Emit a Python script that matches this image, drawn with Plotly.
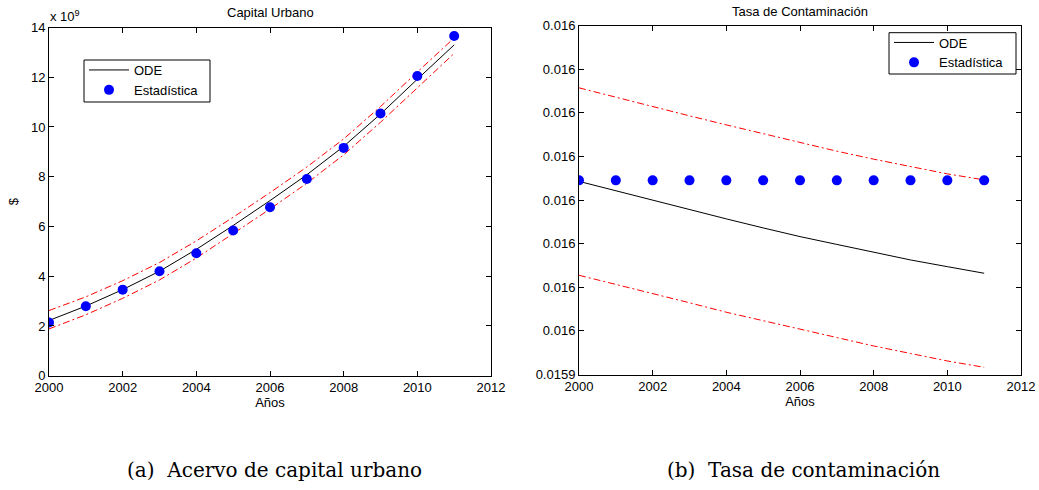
import plotly.graph_objects as go

# Years of the simulation
years = [2000, 2001, 2002, 2003, 2004, 2005, 2006, 2007, 2008, 2009, 2010, 2011]

# Urban capital stock (units of 1e9 $)
capital_ode = [2.22, 2.80, 3.46, 4.20, 5.08, 6.04, 7.04, 8.08, 9.22, 10.52, 11.92, 13.30]
capital_upper = [2.62, 3.17, 3.82, 4.55, 5.42, 6.37, 7.36, 8.39, 9.52, 10.82, 12.21, 13.58]
capital_lower = [1.88, 2.45, 3.11, 3.85, 4.73, 5.70, 6.70, 7.74, 8.88, 10.19, 11.59, 12.96]
capital_stat = [2.14, 2.79, 3.46, 4.20, 4.92, 5.84, 6.77, 7.91, 9.16, 10.54, 12.05, 13.66]

# Pollution rate
pollution_ode = [0.01598427, 0.01598209, 0.01598002, 0.01597773, 0.01597567, 0.01597360,
                 0.01597161, 0.01596982, 0.01596803, 0.01596626, 0.01596472, 0.01596321]
pollution_upper = [0.01600571, 0.01600353, 0.01600142, 0.01599929, 0.01599722, 0.01599516,
                   0.01599310, 0.01599119, 0.01598936, 0.01598759, 0.01598599, 0.01598461]
pollution_lower = [0.01596275, 0.01596069, 0.01595862, 0.01595644, 0.01595427, 0.01595232,
                   0.01595037, 0.01594844, 0.01594654, 0.01594482, 0.01594310, 0.01594165]
pollution_stat = [0.0159845] * 12

# Axis ticks
x_ticks = [2000, 2002, 2004, 2006, 2008, 2010, 2012]
capital_ticks = [0, 2, 4, 6, 8, 10, 12, 14]
pollution_ticks = [0.01594, 0.01595, 0.01596, 0.01597, 0.01598, 0.01599, 0.01600, 0.01601, 0.01602]
pollution_ticktext = ["0.0159", "0.016", "0.016", "0.016", "0.016", "0.016", "0.016", "0.016", "0.016"]

W, H = 1039, 490
FONT = "Arial, 'Liberation Sans', sans-serif"
SERIF = "'DejaVu Serif', serif"
RED = "#ff0000"
BLUE = "#0000ff"
DASHDOT = "7px,3px,2px,3px"


def px_x(v):
    return v / W


def px_y(v):
    return 1 - v / H


fig = go.Figure()

# --- left panel: urban capital ---
fig.add_trace(go.Scatter(x=years, y=capital_upper, mode="lines", showlegend=False,
                         line=dict(color=RED, width=1, dash=DASHDOT), xaxis="x", yaxis="y"))
fig.add_trace(go.Scatter(x=years, y=capital_lower, mode="lines", showlegend=False,
                         line=dict(color=RED, width=1, dash=DASHDOT), xaxis="x", yaxis="y"))
fig.add_trace(go.Scatter(x=years, y=capital_ode, mode="lines", name="ODE",
                         line=dict(color="black", width=1), xaxis="x", yaxis="y", legend="legend"))
fig.add_trace(go.Scatter(x=years, y=capital_stat, mode="markers", name="Estadística",
                         marker=dict(color=BLUE, size=10), xaxis="x", yaxis="y", legend="legend"))

# --- right panel: pollution rate ---
fig.add_trace(go.Scatter(x=years, y=pollution_upper, mode="lines", showlegend=False,
                         line=dict(color=RED, width=1, dash=DASHDOT), xaxis="x2", yaxis="y2"))
fig.add_trace(go.Scatter(x=years, y=pollution_lower, mode="lines", showlegend=False,
                         line=dict(color=RED, width=1, dash=DASHDOT), xaxis="x2", yaxis="y2"))
fig.add_trace(go.Scatter(x=years, y=pollution_ode, mode="lines", name="ODE",
                         line=dict(color="black", width=1), xaxis="x2", yaxis="y2", legend="legend2"))
fig.add_trace(go.Scatter(x=years, y=pollution_stat, mode="markers", name="Estadística",
                         marker=dict(color=BLUE, size=10), xaxis="x2", yaxis="y2", legend="legend2"))

axis_common = dict(
    showline=True, linecolor="black", linewidth=1, mirror="ticks",
    ticks="inside", ticklen=5, tickcolor="black", tickwidth=1,
    showgrid=False, zeroline=False, automargin=False,
    tickfont=dict(family=FONT, size=13, color="black"),
)

# legend entries sit inside boxes drawn as shapes
legend_common = dict(
    bgcolor="rgba(0,0,0,0)", borderwidth=0,
    font=dict(family=FONT, size=13, color="black"),
    xanchor="left", yanchor="top", itemwidth=40, tracegroupgap=0,
)

fig.update_layout(
    width=W, height=H,
    margin=dict(l=0, r=0, t=0, b=0, autoexpand=False),
    paper_bgcolor="white", plot_bgcolor="white",
    font=dict(family=FONT, size=13, color="black"),
    xaxis=dict(axis_common, domain=[px_x(49), px_x(491)], range=[2000, 2012],
               tickvals=x_ticks, anchor="y",
               title=dict(text="Años", standoff=3, font=dict(family=FONT, size=13))),
    yaxis=dict(axis_common, domain=[px_y(375.7), px_y(27.5)], range=[0, 14],
               tickvals=capital_ticks, anchor="x",
               title=dict(text="$", standoff=9, font=dict(family=FONT, size=13))),
    xaxis2=dict(axis_common, domain=[px_x(579), px_x(1021)], range=[2000, 2012],
                tickvals=x_ticks, anchor="y2",
                title=dict(text="Años", standoff=3, font=dict(family=FONT, size=13))),
    yaxis2=dict(axis_common, domain=[px_y(374.5), px_y(25.5)],
                range=[pollution_ticks[0], pollution_ticks[-1]],
                tickvals=pollution_ticks, ticktext=pollution_ticktext, anchor="x2"),
    legend=dict(legend_common, x=px_x(84), y=px_y(55)),
    legend2=dict(legend_common, x=px_x(889), y=px_y(27.5)),
    showlegend=True,
)

fig.update_layout(shapes=[
    dict(type="rect", xref="paper", yref="paper", layer="above",
         x0=px_x(84), x1=px_x(210), y0=px_y(102), y1=px_y(60),
         line=dict(color="black", width=1), fillcolor="white"),
    dict(type="rect", xref="paper", yref="paper", layer="above",
         x0=px_x(889), x1=px_x(1016), y0=px_y(74), y1=px_y(32.7),
         line=dict(color="black", width=1), fillcolor="white"),
])

annotations = [
    dict(text="Capital Urbano", x=px_x(270), y=px_y(13), xref="paper", yref="paper",
         xanchor="center", yanchor="middle", showarrow=False,
         font=dict(family=FONT, size=13, color="black")),
    dict(text="Tasa de Contaminación", x=px_x(800), y=px_y(12), xref="paper", yref="paper",
         xanchor="center", yanchor="middle", showarrow=False,
         font=dict(family=FONT, size=13, color="black")),
    dict(text="x 10<sup>9</sup>", x=px_x(48), y=px_y(26), xref="paper", yref="paper",
         xanchor="left", yanchor="bottom", showarrow=False,
         font=dict(family=FONT, size=13, color="black")),
    dict(text="(a)  Acervo de capital urbano", x=px_x(274), y=px_y(470), xref="paper", yref="paper",
         xanchor="center", yanchor="middle", showarrow=False,
         font=dict(family=SERIF, size=20, color="black")),
    dict(text="(b)  Tasa de contaminación", x=px_x(803), y=px_y(470), xref="paper", yref="paper",
         xanchor="center", yanchor="middle", showarrow=False,
         font=dict(family=SERIF, size=20, color="black")),
]
fig.update_layout(annotations=annotations)

fig.write_html("out.html")
